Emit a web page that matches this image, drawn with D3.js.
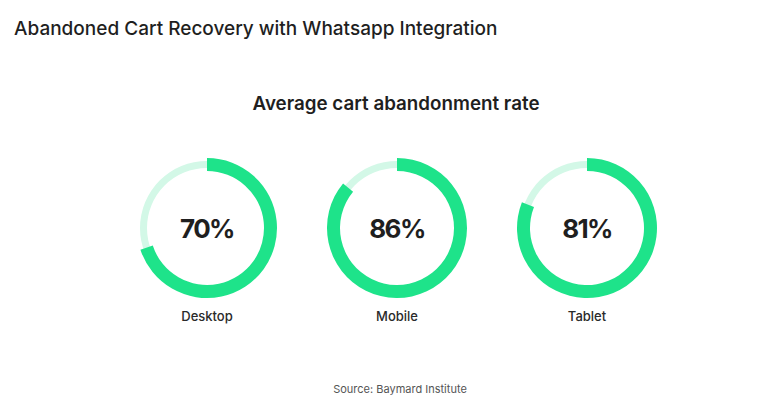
<!DOCTYPE html>
<html>
<head>
<meta charset="utf-8">
<script src="https://cdn.jsdelivr.net/npm/d3@7"></script>
<style>
  body { margin: 0; background: #fff; }
  svg { display: block; font-family: "Inter", "Lato", sans-serif; }
</style>
</head>
<body>
<svg id="chart" width="768" height="403"></svg>
<script>
const devices = ["Desktop", "Mobile", "Tablet"]
const rates = [70, 86, 81]

const width = 768
const height = 403
const outer = 70
const thick = 13
const trackW = 7

const svg = d3.select("#chart")

svg.append("text")
  .attr("x", 14)
  .attr("y", 35)
  .attr("font-size", 19)
  .attr("font-weight", 550)
  .attr("fill", "#1f1f1f")
  .text("Abandoned Cart Recovery with Whatsapp Integration")

svg.append("text")
  .attr("x", 396)
  .attr("y", 110)
  .attr("text-anchor", "middle")
  .attr("font-size", 18.8)
  .attr("font-weight", 600)
  .attr("fill", "#1f1f1f")
  .text("Average cart abandonment rate")

const x = d3.scalePoint()
  .domain(devices)
  .range([207, 587])

const angle = d3.scaleLinear()
  .domain([0, 100])
  .range([0, 2 * Math.PI])

const mid = outer - thick / 2

const trackArc = d3.arc()
  .innerRadius(mid - trackW / 2)
  .outerRadius(mid + trackW / 2)
  .startAngle(0)
  .endAngle(2 * Math.PI)

const valueArc = d3.arc()
  .innerRadius(outer - thick)
  .outerRadius(outer)
  .startAngle(0)
  .endAngle(d => angle(d))

const g = svg.selectAll("g.donut")
  .data(devices)
  .enter()
  .append("g")
  .attr("class", "donut")
  .attr("transform", d => `translate(${x(d)},228)`)

g.append("path")
  .attr("d", trackArc)
  .attr("fill", "#d3f8e7")

g.append("path")
  .attr("d", (d, i) => valueArc(rates[i]))
  .attr("fill", "#1ee38a")

// percentages: Inter is wider than the original face, so tighten it
g.append("text")
  .attr("y", 10)
  .attr("text-anchor", "middle")
  .attr("font-size", 26)
  .attr("font-weight", 700)
  .attr("letter-spacing", -1.6)
  .attr("fill", "#1f1f1f")
  .text((d, i) => rates[i] + "%")

g.append("text")
  .attr("y", 93)
  .attr("text-anchor", "middle")
  .attr("font-size", 13)
  .attr("font-weight", 500)
  .attr("fill", "#2a2a2a")
  .text(d => d)

svg.append("text")
  .attr("x", 400)
  .attr("y", 393)
  .attr("text-anchor", "middle")
  .attr("font-size", 11)
  .attr("fill", "#555")
  .text("Source: Baymard Institute")
</script>
</body>
</html>
